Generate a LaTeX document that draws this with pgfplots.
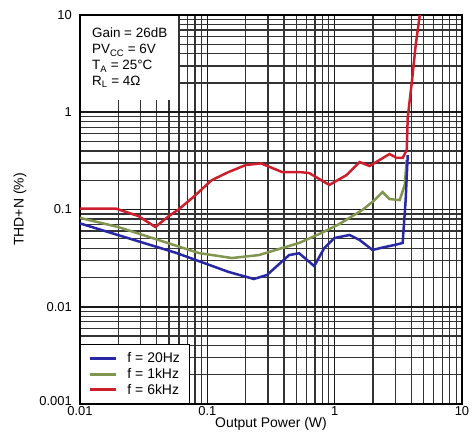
\documentclass[border=0pt]{standalone}
\usepackage{fontspec}
\setmainfont{Liberation Sans}
\usepackage{pgfplots}
\pgfplotsset{compat=1.18}
\definecolor{cblue}{RGB}{40,40,165}
\definecolor{cgreen}{RGB}{130,150,80}
\definecolor{cred}{RGB}{205,30,45}
\begin{document}
\begin{tikzpicture}[font=\fontsize{13}{16}\selectfont]
\path[use as bounding box] (-80bp,-32bp) rectangle (394bp,404bp);
\begin{axis}[
 at={(0,0)}, anchor=south west,
 xmode=log, ymode=log,
 width=382bp, height=389bp, scale only axis,
 xmin=0.01, xmax=10, ymin=0.001, ymax=10,
 xtick={0.01,0.1,1,10}, xticklabels={0.01,0.1,1,10},
 ytick={0.001,0.01,0.1,1,10}, yticklabels={\raisebox{7bp}{0.001},0.01,0.1,1,10},
 grid=both,
 major grid style={black!90, line width=1.6bp},
 minor grid style={black!80, line width=1.3bp},
 axis line style={black, line width=1.8bp},
 major tick length=0pt, minor tick length=0pt,
 xticklabel style={inner sep=0bp, yshift=-2bp},
 yticklabel style={inner sep=0bp, xshift=-8bp},
 xlabel={Output Power (W)}, ylabel={THD+N (\%)},
 xlabel style={at={(axis description cs:0.5,-0.0514)}, anchor=center, font=\fontsize{14}{16}\selectfont},
 ylabel style={at={(axis description cs:-0.157,0.5)}, anchor=center, font=\fontsize{14}{16}\selectfont},
 legend style={at={(0,0)}, anchor=south west, draw=black, line width=1bp, fill=white,
   inner xsep=8bp, inner ysep=6bp, row sep=0bp, column sep=8bp, nodes={inner sep=2bp},
   font=\fontsize{14}{16}\selectfont},
 legend cell align=left,
 legend image code/.code={\draw[#1, line width=3bp] (0bp,0bp) -- (26bp,0bp);},
 reverse legend,
]
\addplot[cred, line width=2.5bp] coordinates {
(0.01,0.102) (0.0192,0.102) (0.0287,0.0857) (0.0391,0.0661) (0.0495,0.085)
(0.0594,0.10) (0.078,0.135) (0.108,0.20) (0.147,0.243) (0.201,0.287)
(0.264,0.298) (0.386,0.243) (0.526,0.243) (0.631,0.237) (0.757,0.206)
(0.908,0.179) (1.24,0.226) (1.57,0.308) (1.88,0.28) (2.25,0.323)
(2.70,0.372) (3.07,0.339) (3.42,0.339) (3.68,0.409) (3.75,0.89)
(4.03,2.0) (4.33,4.91) (4.66,10)};
\addlegendentry{f = 6kHz}
\addplot[cgreen, line width=2.5bp] coordinates {
(0.01,0.082) (0.02,0.066) (0.0413,0.0486) (0.0855,0.0357) (0.156,0.0317)
(0.254,0.034) (0.366,0.0393) (0.526,0.0453) (0.757,0.056) (1.09,0.071)
(1.65,0.0988) (2.06,0.125) (2.38,0.151) (2.70,0.128) (3.24,0.125)
(3.55,0.179) (3.68,0.323)};
\addlegendentry{f = 1kHz}
\addplot[cblue, line width=2.5bp] coordinates {
(0.01,0.072) (0.0573,0.0357) (0.147,0.0228) (0.232,0.0193) (0.294,0.0212)
(0.439,0.0340) (0.526,0.0355) (0.691,0.0262) (0.829,0.0402) (0.994,0.0509)
(1.31,0.0547) (1.57,0.0486) (1.98,0.0384) (2.47,0.0411) (2.96,0.0432)
(3.42,0.0453) (3.61,0.125) (3.75,0.363)};
\addlegendentry{f = 20Hz}
\node[fill=white, anchor=north west, inner xsep=11bp, inner ysep=8bp,
  minimum height=84bp, align=left, xshift=0.9bp, yshift=-0.9bp,
  font=\fontsize{13.5}{16}\selectfont] at (rel axis cs:0,1)
  {Gain = 26dB\\ PV\textsubscript{CC} = 6V\\ T\textsubscript{A} = 25°C\\ R\textsubscript{L} = 4Ω};
\end{axis}
\end{tikzpicture}
\end{document}
